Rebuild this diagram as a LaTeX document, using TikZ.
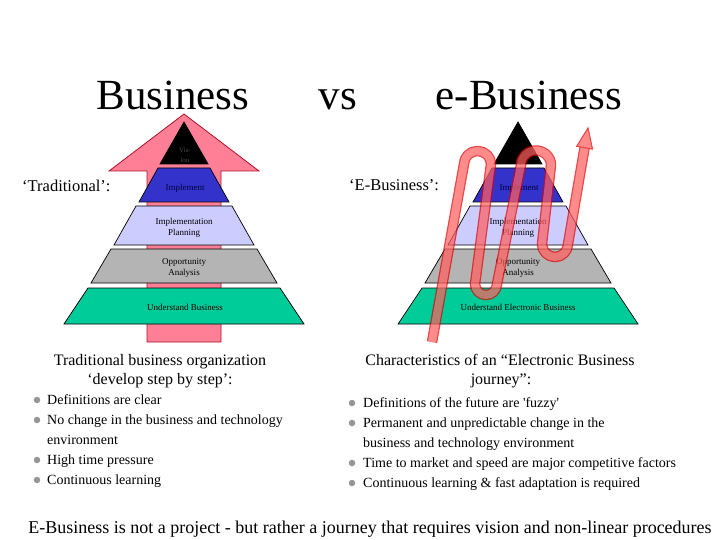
\documentclass[tikz,border=0pt]{standalone}
\usepackage{fontspec}
\setmainfont{Liberation Serif}
\definecolor{arrowpink}{RGB}{255,128,150}
\definecolor{arrowline}{RGB}{170,20,40}
\definecolor{lyblue}{RGB}{51,51,204}
\definecolor{lylav}{RGB}{204,204,255}
\definecolor{lygray}{RGB}{180,180,180}
\definecolor{lygreen}{RGB}{0,204,153}
\definecolor{waveline}{RGB}{225,0,0}
\definecolor{wavefill}{RGB}{255,95,95}
\definecolor{bulletgray}{RGB}{150,150,150}
\definecolor{navytext}{RGB}{0,0,60}
\newcommand\drawpyr[1]{%
  \begin{scope}[xshift=#1]
    \filldraw[layer, fill=black] (0,122) -- (24,164) -- (-24,164) -- cycle;
    \filldraw[layer, fill=lyblue] (-26,168) -- (26,168) -- (45,202) -- (-45,202) -- cycle;
    \filldraw[layer, fill=lylav] (-48,206) -- (48,206) -- (70,245) -- (-70,245) -- cycle;
    \filldraw[layer, fill=lygray] (-73,249) -- (73,249) -- (93,283) -- (-93,283) -- cycle;
    \filldraw[layer, fill=lygreen] (-96,288) -- (96,288) -- (120,324) -- (-120,324) -- cycle;
  \end{scope}}
\newcommand\wavepath{(432,342) -- (464,164) .. controls (464,156.8) and (470.2,151) .. (477.5,151) .. controls (484.8,151) and (491,156.8) .. (491,164) -- (475,284) .. controls (475,290.1) and (479.9,295) .. (486,295) .. controls (492.1,295) and (497,290.1) .. (497,284) -- (521,165) .. controls (521,157) and (528,150.5) .. (536,150.5) .. controls (544,150.5) and (551,157) .. (551,165) -- (542,244) .. controls (542,251.2) and (547.8,257) .. (555,257) .. controls (562.2,257) and (568,251.2) .. (568,244) -- (584.6,147.7)}
\tikzset{
  layer/.style={draw=black, line width=0.7},
  ptext/.style={font=\fontsize{9}{11}\selectfont, align=center, inner sep=0},
  titletext/.style={font=\fontsize{43}{43}\selectfont, inner sep=0, anchor=base},
  labeltext/.style={font=\fontsize{16.5}{19}\selectfont, inner sep=0, anchor=base west},
  headtext/.style={font=\fontsize{16}{19}\selectfont, inner sep=0, anchor=base},
  btext/.style={font=\fontsize{14}{16}\selectfont, inner sep=0, anchor=base west},
  bdot/.style={circle, fill=bulletgray, inner sep=0, minimum size=6.5},
}
\begin{document}
\begin{tikzpicture}[x=1pt,y=-1pt]
\useasboundingbox (0,0) rectangle (720,540);
\fill[white] (0,0) rectangle (720,540);
% titles
\node[titletext] (t1) at (173,110) {Business};
\node[titletext] (t2) at (338,110) {vs};
\node[titletext] (t3) at (529,110) {e-Business};
% left big arrow
\filldraw[fill=arrowpink, draw=arrowline, line width=0.8] (184,114) -- (259,171) -- (221,171) -- (221,342) -- (147,342) -- (147,171) -- (109,171) -- cycle;
% pyramids
\drawpyr{184}
\drawpyr{518}
% left pyramid text
\node[ptext, text=black!70, font=\fontsize{7}{10}\selectfont] (lv) at (185,155) {Vis-\\ion};
\node[ptext, text=navytext] (li) at (185,188) {Implement};
\node[ptext] (lp) at (184,227.5) {Implementation\\Planning};
\node[ptext] (lo) at (184,268) {Opportunity\\Analysis};
\node[ptext] (lu) at (185,307) {Understand Business};
% right pyramid text
\node[ptext, text=navytext] (ri) at (519,188) {Implement};
\node[ptext] (rp) at (518,227.5) {Implementation\\Planning};
\node[ptext] (ro) at (518,268) {Opportunity\\Analysis};
\node[ptext] (ru) at (518,307) {Understand Electronic Business};
% wave
\begin{scope}[transparency group, opacity=0.72]
  \draw[waveline, line width=10.5, line join=round] \wavepath;
  \draw[wavefill, line width=8, line join=round] \wavepath;
  \filldraw[fill=wavefill, draw=waveline, line width=1.1, line join=miter] (588,128) -- (592.5,149.1) -- (576.7,146.3) -- cycle;
\end{scope}
% labels
\node[labeltext] (ltrad) at (22,192) {‘Traditional’:};
\node[labeltext] (lebus) at (349,191) {‘E-Business’:};
% left text block
\node[headtext] (lh1) at (160,365) {Traditional business organization};
\node[headtext] (lh2) at (160,384) {‘develop step by step’:};
\node[bdot] (lb1) at (37,400) {};
\node[bdot] (lb2) at (37,420) {};
\node[bdot] (lb3) at (37,460) {};
\node[bdot] (lb4) at (37,480) {};
\node[btext] (ll1) at (47,404.5) {Definitions are clear};
\node[btext] (ll2) at (47,424.5) {No change in the business and technology};
\node[btext] (ll3) at (47,444.5) {environment};
\node[btext] (ll4) at (47,464.5) {High time pressure};
\node[btext] (ll5) at (47,484.5) {Continuous learning};
% right text block
\node[headtext] (rh1) at (500,365) {Characteristics of an “Electronic Business};
\node[headtext] (rh2) at (501,384) {journey”:};
\node[bdot] (rb1) at (352,403) {};
\node[bdot] (rb2) at (352,423) {};
\node[bdot] (rb3) at (352,463) {};
\node[bdot] (rb4) at (352,483) {};
\node[btext] (rl1) at (363,407.5) {Definitions of the future are \textquotesingle fuzzy\textquotesingle};
\node[btext] (rl2) at (363,427.5) {Permanent and unpredictable change in the};
\node[btext] (rl3) at (363,447.5) {business and technology environment};
\node[btext] (rl4) at (363,467.5) {Time to market and speed are major competitive factors};
\node[btext] (rl5) at (363,487.5) {Continuous learning \& fast adaptation is required};
% bottom line
\node[headtext, font=\fontsize{18}{20}\selectfont] (bottom) at (370,533) {E-Business is not a project - but rather a journey that requires vision and non-linear procedures};
\end{tikzpicture}
\end{document}
